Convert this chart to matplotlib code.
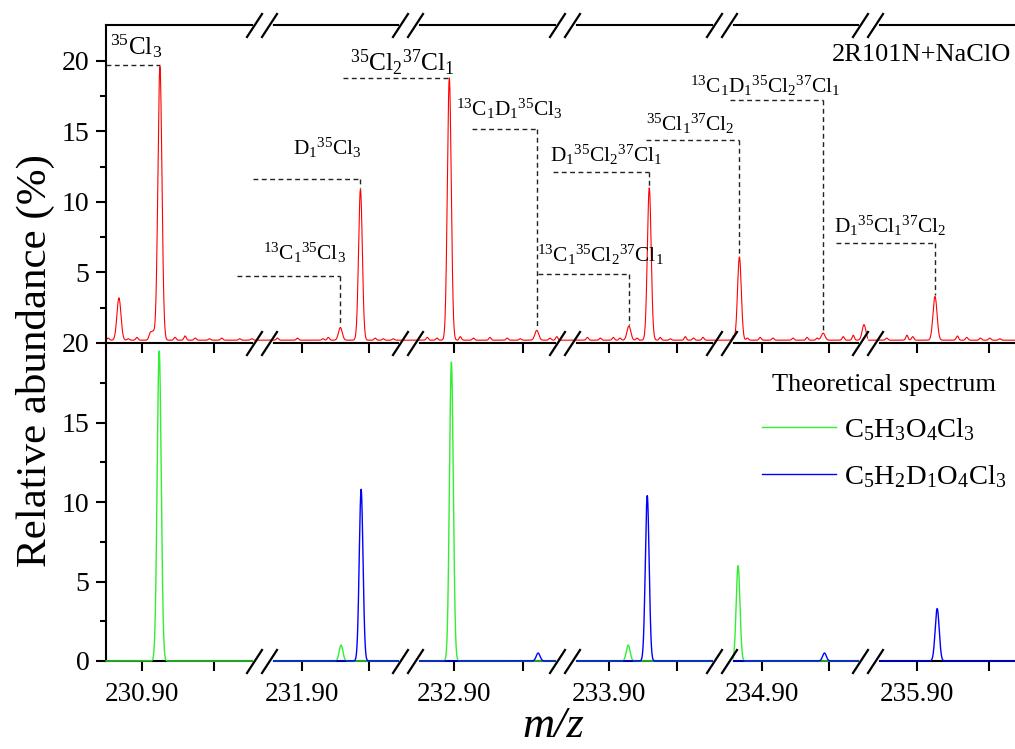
import numpy as np
import matplotlib
matplotlib.use('Agg')
import matplotlib.pyplot as plt
from matplotlib.lines import Line2D

plt.rcParams['font.family'] = ['Liberation Serif', 'DejaVu Serif']
plt.rcParams['mathtext.fontset'] = 'custom'
plt.rcParams['mathtext.rm'] = 'Liberation Serif'
plt.rcParams['mathtext.it'] = 'Liberation Serif:italic'

# ---------------- data ----------------
seg_lo = [230.8950, 231.8940, 232.8933, 233.8935, 234.8940, 235.8932]
seg_hi = [230.9167, 231.9158, 232.9161, 233.9166, 234.9158, 235.9136]
seg_major = [230.90, 231.90, 232.90, 233.90, 234.90, 235.90]
seg_minor = [230.91, 231.91, 232.91, 233.91, 234.91, 235.91]
tick_labels = ['230.90', '231.90', '232.90', '233.90', '234.90', '235.90']

# experimental spectrum (2R101N+NaClO), peaks
exp_mz = [230.8968, 230.9015, 230.9025, 231.9057, 231.9087, 232.8993, 232.9120,
          233.9029, 233.9059, 234.8966, 234.9091, 234.9152, 235.9025]
exp_h = [3.0, 0.6, 19.4, 0.9, 10.7, 18.6, 0.7, 1.0, 10.8, 5.9, 0.5, 1.1, 3.1]
exp_base = 0.2
# small baseline ripples
noise_mz = [230.8953, 230.8981, 230.8993, 230.9011, 230.9046, 230.9060, 230.9074,
            230.9094, 230.9111, 230.9136, 230.9153,
            231.8963, 231.8993, 231.9031, 231.9039, 231.9109, 231.9121, 231.9136,
            232.8961, 232.8975, 232.9009, 232.9028, 232.9052, 232.9077, 232.9096,
            232.9139, 232.9149,
            233.8968, 233.8987, 233.9006, 233.9016, 233.9041, 233.9075, 233.9090,
            233.9112, 233.9124, 233.9138,
            234.8957, 234.8978, 234.8997, 234.9016, 234.9046, 234.9067, 234.9082,
            234.9121, 234.9136,
            235.8958, 235.8986, 235.8994, 235.9056, 235.9069, 235.9088, 235.9101,
            235.9115]
noise_h = [0.15, 0.1, 0.2, 0.3, 0.2, 0.3, 0.15, 0.1, 0.15, 0.1, 0.1,
           0.15, 0.15, 0.1, 0.2, 0.15, 0.1, 0.1,
           0.2, 0.15, 0.25, 0.15, 0.2, 0.15, 0.1, 0.15, 0.25,
           0.2, 0.15, 0.2, 0.15, 0.15, 0.2, 0.1, 0.25, 0.15, 0.2,
           0.3, 0.15, 0.2, 0.15, 0.15, 0.2, 0.15, 0.25, 0.35,
           0.15, 0.35, 0.25, 0.3, 0.2, 0.15, 0.15, 0.1]

# theoretical spectra
green_mz = [230.9024, 231.9058, 232.8996, 233.9028, 234.8964]
green_h = [19.5, 1.0, 18.8, 1.0, 6.0]
blue_mz = [231.9088, 232.9122, 233.9056, 234.9093, 235.9028]
blue_h = [10.8, 0.5, 10.4, 0.5, 3.3]

# annotations
ann_text = [r'$\mathrm{{}^{35}Cl_{3}}$',
            r'$\mathrm{D_{1}{}^{35}Cl_{3}}$',
            r'$\mathrm{{}^{13}C_{1}{}^{35}Cl_{3}}$',
            r'$\mathrm{{}^{35}Cl_{2}{}^{37}Cl_{1}}$',
            r'$\mathrm{{}^{13}C_{1}D_{1}{}^{35}Cl_{3}}$',
            r'$\mathrm{D_{1}{}^{35}Cl_{2}{}^{37}Cl_{1}}$',
            r'$\mathrm{{}^{13}C_{1}{}^{35}Cl_{2}{}^{37}Cl_{1}}$',
            r'$\mathrm{{}^{35}Cl_{1}{}^{37}Cl_{2}}$',
            r'$\mathrm{{}^{13}C_{1}D_{1}{}^{35}Cl_{2}{}^{37}Cl_{1}}$',
            r'$\mathrm{D_{1}{}^{35}Cl_{1}{}^{37}Cl_{2}}$']
ann_peak = [230.9025, 231.9087, 231.9057, 232.8993, 232.9120,
            233.9059, 233.9029, 234.8966, 234.9091, 235.9025]
ann_level = [19.7, 11.64, 4.78, 18.81, 15.18, 12.14, 4.92, 14.40, 17.23, 7.11]

# ---------------- layout ----------------
W, H = 1015, 749
xb = [106, 262, 408, 565, 722, 868, 1015]
y_top, y_mid, y_bot = 25, 343, 661
up_ylim = (0, 22.55)
ann_left_px = [106, 253, 237, 343, 472, 553, 538, 646, 730, 836]
ann_text_px = [110, 293, 263, 350, 456, 550, 537, 646, 690, 834]
ann_text_y = [20.45, 13.34, 5.91, 19.29, 16.10, 12.85, 5.77, 15.04, 17.73, 7.82]
ann_size = [18, 15.4, 15.4, 18.3, 15.4, 15.4, 15.4, 15.4, 15.4, 15.4]

SIG = 0.00028
SIG_N = 0.00016


def profile(x, mzs, hs, sig):
    y = np.zeros_like(x)
    for m, h in zip(mzs, hs):
        y += h * np.exp(-0.5 * ((x - m) / sig) ** 2)
    return y


def exp_profile(x):
    return exp_base + profile(x, exp_mz, exp_h, SIG) + profile(x, noise_mz, noise_h, SIG_N)


def rect(x0, x1, yt, yb):
    return [x0 / W, (H - yb) / H, (x1 - x0) / W, (yb - yt) / H]


fig = plt.figure(figsize=(W / 100, H / 100), dpi=100)
LW = 1.5
up_axes, low_axes = [], []
for i in range(6):
    au = fig.add_axes(rect(xb[i], xb[i + 1], y_top, y_mid))
    al = fig.add_axes(rect(xb[i], xb[i + 1], y_mid, y_bot))
    for ax in (au, al):
        ax.set_facecolor('none')
        ax.set_xlim(seg_lo[i], seg_hi[i])
        ax.spines['right'].set_visible(False)
        ax.spines['left'].set_visible(i == 0)
        for s in ax.spines.values():
            s.set_linewidth(LW)
        ax.set_xticks([seg_major[i], seg_minor[i]])
        ax.tick_params(axis='x', direction='out', length=7, width=LW, top=False)
        ax.tick_params(axis='y', direction='out', length=7, width=LW,
                       labelsize=20, pad=5)
        ax.tick_params(axis='y', which='minor', direction='out', length=4, width=LW)
        if i > 0:
            ax.tick_params(axis='y', which='both', left=False, labelleft=False)
    al.spines['top'].set_visible(False)
    au.set_xticklabels(['', ''])
    al.set_xticklabels([tick_labels[i], ''], fontsize=19.5)
    al.tick_params(axis='x', pad=8)
    au.set_ylim(*up_ylim)
    al.set_ylim(0, 20)
    if i == 0:
        au.set_yticks([5, 10, 15, 20])
        au.set_yticks([2.5, 7.5, 12.5, 17.5], minor=True)
        al.set_yticks([0, 5, 10, 15, 20])
        al.set_yticks([2.5, 7.5, 12.5, 17.5], minor=True)
    else:
        au.set_yticks([])
        al.set_yticks([])

    x = np.linspace(seg_lo[i], seg_hi[i], 1500)
    au.plot(x, exp_profile(x), color='#ff0000', lw=0.8)
    if any(seg_lo[i] <= m <= seg_hi[i] for m in green_mz):
        al.plot(x, profile(x, green_mz, green_h, SIG), color='#33ee33', lw=1.0,
                clip_on=False, zorder=3)
    if any(seg_lo[i] <= m <= seg_hi[i] for m in blue_mz):
        al.plot(x, profile(x, blue_mz, blue_h, SIG), color='#0000ff', lw=1.0,
                clip_on=False, zorder=3)
    up_axes.append(au)
    low_axes.append(al)

# legend
h_g = Line2D([], [], color='#33ee33', lw=1.0)
h_b = Line2D([], [], color='#0000ff', lw=1.0)
leg = fig.legend([h_g, h_b],
                 [r'$\mathrm{C_{5}H_{3}O_{4}Cl_{3}}$', r'$\mathrm{C_{5}H_{2}D_{1}O_{4}Cl_{3}}$'],
                 title='Theoretical spectrum', frameon=False, fontsize=20.5,
                 title_fontsize=19, handlelength=2.6, handletextpad=0.3,
                 labelspacing=0.7, loc='upper right',
                 bbox_to_anchor=(1018 / W, (H - 363) / H), borderaxespad=0)

# overlay for annotations
axo = fig.add_axes(rect(xb[0], xb[-1], y_top, y_mid))
axo.set_xlim(0, 1)
axo.set_ylim(*up_ylim)
axo.axis('off')
axo.set_zorder(5)


def peak_frac(mz):
    for i in range(6):
        if seg_lo[i] <= mz <= seg_hi[i]:
            d = up_axes[i].transData.transform((mz, 0))
            return axo.transAxes.inverted().transform(d)[0]
    return None


span = xb[-1] - xb[0]
for k in range(len(ann_text)):
    px = peak_frac(ann_peak[k])
    xl = (ann_left_px[k] - xb[0]) / span
    lv = ann_level[k]
    top = float(exp_profile(np.array([ann_peak[k]]))[0])
    axo.plot([xl, px], [lv, lv], color='#222222', lw=1.0, dashes=(3.5, 2.5))
    if lv - top > 0.2:
        axo.plot([px, px], [lv, top + 0.1], color='#222222', lw=1.0, dashes=(3.5, 2.5))
    axo.text((ann_text_px[k] - xb[0]) / span, ann_text_y[k], ann_text[k],
             ha='left', va='baseline', fontsize=ann_size[k])

fig.text(832 / W, (H - 61) / H, '2R101N+NaClO', fontsize=19, ha='left', va='baseline')
fig.text(35 / W, (H - 361) / H, 'Relative abundance (%)', fontsize=31,
         rotation=90, ha='center', va='center')
fig.text(553 / W, (H - 706) / H, 'm/z', fontsize=32, style='italic',
         ha='center', va='top')

# break marks
for xbd in xb[1:-1]:
    for yy in (y_top, y_mid, y_bot):
        fy = (H - yy) / H
        fig.add_artist(Line2D([(xbd - 7) / W, (xbd + 8) / W], [fy, fy],
                              color='white', lw=3.5, transform=fig.transFigure))
        for off in (-15, 0):
            fig.add_artist(Line2D([(xbd + off) / W, (xbd + off + 15) / W],
                                  [(H - yy - 12) / H, (H - yy + 11) / H],
                                  color='black', lw=1.6, transform=fig.transFigure))

fig.savefig('out.png', dpi=100)
